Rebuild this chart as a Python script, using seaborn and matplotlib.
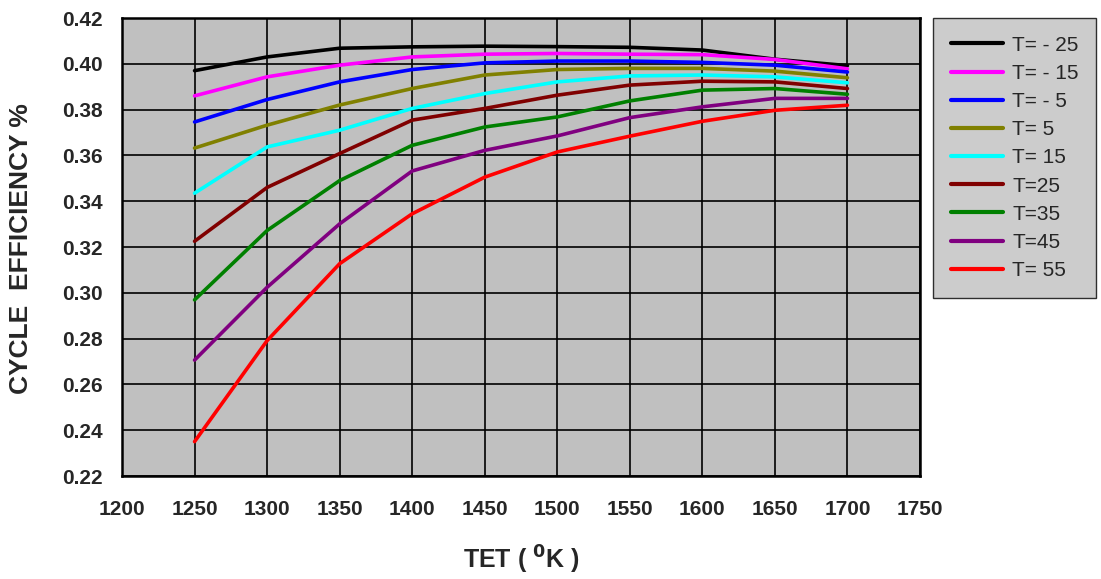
import matplotlib
matplotlib.use("Agg")
import matplotlib.pyplot as plt
import seaborn as sns
import pandas as pd

# Turbine entry temperature (K)
tet = [1250, 1300, 1350, 1400, 1450, 1500, 1550, 1600, 1650, 1700]

# Cycle efficiency for each ambient temperature
series_labels = ["T= - 25", "T= - 15", "T= - 5", "T= 5", "T= 15",
                 "T=25", "T=35", "T=45", "T= 55"]
eff_m25 = [0.397, 0.403, 0.4068, 0.4074, 0.4077, 0.4075, 0.4072, 0.406, 0.402, 0.3992]
eff_m15 = [0.386, 0.3943, 0.3994, 0.403, 0.4042, 0.4045, 0.4042, 0.404, 0.4019, 0.3978]
eff_m5 = [0.3746, 0.3844, 0.3921, 0.3975, 0.4004, 0.4012, 0.4012, 0.4006, 0.3994, 0.3964]
eff_p5 = [0.3632, 0.3732, 0.382, 0.3892, 0.3951, 0.3975, 0.398, 0.398, 0.3968, 0.3939]
eff_p15 = [0.3435, 0.3637, 0.371, 0.3805, 0.387, 0.3921, 0.3947, 0.3951, 0.3943, 0.3917]
eff_p25 = [0.3225, 0.346, 0.3608, 0.3754, 0.3805, 0.3863, 0.3907, 0.3924, 0.3921, 0.3892]
eff_p35 = [0.2969, 0.3272, 0.349, 0.3644, 0.3724, 0.3768, 0.3838, 0.3885, 0.3892, 0.3867]
eff_p45 = [0.2706, 0.3024, 0.3301, 0.3532, 0.3622, 0.3685, 0.3765, 0.3812, 0.3849, 0.3849]
eff_p55 = [0.235, 0.2791, 0.3127, 0.3345, 0.3505, 0.3615, 0.3684, 0.3749, 0.3797, 0.3819]

colors = ["#000000", "#FF00FF", "#0000FF", "#808000", "#00FFFF",
          "#800000", "#008000", "#800080", "#FF0000"]

all_series = [eff_m25, eff_m15, eff_m5, eff_p5, eff_p15,
              eff_p25, eff_p35, eff_p45, eff_p55]

rows = []
for lab, vals in zip(series_labels, all_series):
    for x, v in zip(tet, vals):
        rows.append({"TET": x, "eff": v, "series": lab})
df = pd.DataFrame(rows)

sns.set_style("white")
plt.rcParams["font.family"] = ["Liberation Sans", "DejaVu Sans"]

fig = plt.figure(figsize=(11.01, 5.79), dpi=100)
ax = fig.add_axes([122 / 1101, 1 - 476 / 579, (920 - 122) / 1101, (476 - 18) / 579])
ax.set_facecolor("#C0C0C0")

sns.lineplot(data=df, x="TET", y="eff", hue="series", hue_order=series_labels,
             palette=colors, linewidth=2.6, ax=ax, legend=True)

ax.set_xlim(1200, 1750)
ax.set_ylim(0.22, 0.42)
ax.set_xticks(range(1200, 1751, 50))
ax.set_yticks([0.22 + 0.02 * i for i in range(11)])
ax.set_yticklabels([f"{0.22 + 0.02 * i:.2f}" for i in range(11)])
ax.grid(True, color="black", linewidth=1.2)
ax.set_axisbelow(True)
for sp in ax.spines.values():
    sp.set_color("black")
    sp.set_linewidth(1.8)
    sp.set_visible(True)

ax.tick_params(axis="both", direction="out", length=5, width=1.2, color="black",
               labelsize=15)
ax.tick_params(axis="y", pad=9)
ax.tick_params(axis="x", pad=12)
for t in ax.get_xticklabels() + ax.get_yticklabels():
    t.set_fontweight("bold")

ax.set_xlabel("TET ( $\\mathbf{^{0}}$K )", fontsize=18, fontweight="bold", labelpad=18)
ax.set_ylabel("CYCLE  EFFICIENCY %", fontsize=19, fontweight="bold")
ax.yaxis.set_label_coords(33 / 1101, 1 - 248.5 / 579, transform=fig.transFigure)

handles, labels = ax.get_legend_handles_labels()
ax.get_legend().remove()
leg = fig.legend(handles, labels, loc="upper left",
                 bbox_to_anchor=(933 / 1101, 1 - 18 / 579),
                 bbox_transform=fig.transFigure,
                 fontsize=15, frameon=True, fancybox=False,
                 handlelength=2.5, handletextpad=0.45, labelspacing=0.44,
                 borderpad=0.85, borderaxespad=0)
leg.get_frame().set_facecolor("#C0C0C0")
leg.get_frame().set_edgecolor("black")
leg.get_frame().set_linewidth(1.0)
for ln in leg.get_lines():
    ln.set_linewidth(3)

fig.savefig("out.png", dpi=100)
